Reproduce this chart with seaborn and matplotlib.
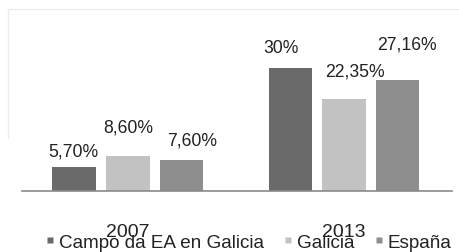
import pandas as pd
import matplotlib
matplotlib.use("Agg")
import matplotlib.pyplot as plt
import seaborn as sns
from matplotlib.lines import Line2D

# data
years = ["2007", "2013"]
series = ["Campo da EA en Galicia", "Galicia", "España"]
values_2007 = [5.70, 8.60, 7.60]
values_2013 = [30.0, 22.35, 27.16]
labels_2007 = ["5,70%", "8,60%", "7,60%"]
labels_2013 = ["30%", "22,35%", "27,16%"]
colors = ["#6a6a6a", "#c2c2c2", "#8e8e8e"]

df = pd.DataFrame({
    "year": [y for y in years for _ in series],
    "serie": series * 2,
    "value": values_2007 + values_2013,
    "label": labels_2007 + labels_2013,
})

sns.set_style("white")
plt.rcParams["font.family"] = ["Liberation Sans", "DejaVu Sans"]

fig = plt.figure(figsize=(4.6, 2.53), dpi=100)
ax = fig.add_axes([22 / 460, 1 - 191.7 / 253, 430 / 460, 171.7 / 253])

sns.barplot(data=df, x="year", y="value", hue="serie", hue_order=series,
            palette=colors, width=0.745, gap=0.19, ax=ax,
            edgecolor="none", legend=False)

ax.set_xlim(-0.49, 1.5)
ax.set_ylim(0, 42)
ax.set_yticks([])
ax.set_xlabel("")
ax.set_ylabel("")
for s in ["top", "left", "right"]:
    ax.spines[s].set_visible(False)
ax.spines["bottom"].set_color("#8a8a8a")
ax.spines["bottom"].set_linewidth(1.2)
ax.tick_params(axis="x", length=0, pad=23, labelsize=14, colors="#222222")

# value labels, offsets in pixels (dx, dy) to match the reference placement
offsets = {
    "5,70%": (-1, 16), "8,60%": (0, 29), "7,60%": (11, 20),
    "30%": (-9, 21), "22,35%": (11, 28), "27,16%": (9, 36),
}
for i, cont in enumerate(ax.containers):
    for j, bar in enumerate(cont):
        lab = df[(df.serie == series[i]) & (df.year == years[j])]["label"].iloc[0]
        dx, dy = offsets[lab]
        ax.annotate(lab, (bar.get_x() + bar.get_width() / 2, bar.get_height()),
                    xytext=(dx * 0.72, dy * 0.72), textcoords="offset points",
                    ha="center", va="center", fontsize=12.7, color="#222222")

handles = [Line2D([], [], marker="s", linestyle="none", markersize=5,
                  markerfacecolor=c, markeredgecolor="none") for c in colors]
fig.legend(handles, series, loc="center", bbox_to_anchor=(0.539, 1 - 243 / 253),
           ncol=3, frameon=False, fontsize=13.6, handletextpad=0.15,
           columnspacing=1.0, handlelength=0.6, labelcolor="#222222",
           borderpad=0)

# faint frame lines of the original screenshot
fig.add_artist(Line2D([8 / 460, 1], [1 - 10 / 253] * 2, color="#ececec", lw=1))
fig.add_artist(Line2D([8 / 460] * 2, [1 - 10 / 253, 0.45], color="#ececec", lw=1))

fig.savefig("out.png", dpi=100)
